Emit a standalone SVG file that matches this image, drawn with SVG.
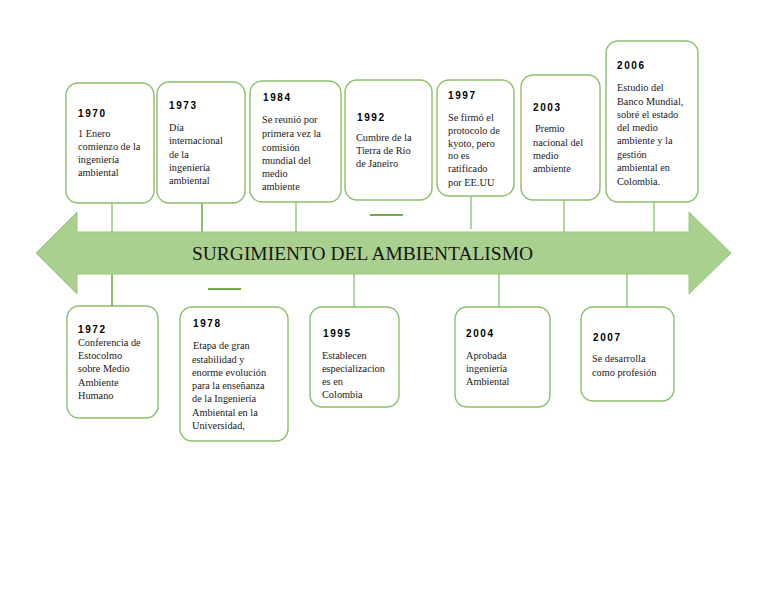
<svg xmlns="http://www.w3.org/2000/svg" width="768" height="594" viewBox="0 0 768 594">
<style>
.box{fill:#ffffff;stroke:#8dc06b;stroke-width:1.4}
.yr{font-family:"Liberation Sans",Arial,sans-serif;font-weight:bold;font-size:10px;letter-spacing:1.6px;fill:#000}
.tx{font-family:"Liberation Serif","Times New Roman",serif;font-size:10.3px;fill:#1a1a1a}
.stem{stroke:#8dc06b;stroke-width:1.3;fill:none}
.stem2{stroke:#70ad47;stroke-width:1.6;fill:none}
.dash{stroke:#70ad47;stroke-width:2;fill:none}
.title{font-family:"Liberation Serif","Times New Roman",serif;font-size:19px;fill:#151515}
</style>
<rect width="768" height="594" fill="#ffffff"/>
<g id="connectors">
<line class="stem" x1="112" y1="203" x2="112" y2="234"/>
<line class="stem2" x1="202" y1="203" x2="202" y2="234"/>
<line class="stem" x1="296" y1="202" x2="296" y2="234"/>
<line class="stem" x1="471" y1="196" x2="471" y2="229"/>
<line class="stem" x1="564" y1="200" x2="564" y2="234"/>
<line class="stem" x1="654" y1="202" x2="654" y2="234"/>
<line class="stem2" x1="112" y1="272" x2="112" y2="306"/>
<line class="stem" x1="354" y1="272" x2="354" y2="307"/>
<line class="stem" x1="499" y1="272" x2="499" y2="307"/>
<line class="stem" x1="627" y1="272" x2="627" y2="307"/>
<line class="dash" x1="370" y1="215" x2="403" y2="215"/>
<line class="dash" x1="208" y1="289" x2="241" y2="289"/>
</g>
<g id="timeline-arrow">
<polygon points="36,253 77,212 77,232 689,232 689,212 731,253 689,294 689,274 77,274 77,294" fill="#a9d08e" stroke="#9cc780" stroke-width="1"/>
<text class="title" x="192" y="260" textLength="341" lengthAdjust="spacingAndGlyphs">SURGIMIENTO DEL AMBIENTALISMO</text>
</g>
<g id="n1970">
<rect class="box" x="66" y="83" width="88" height="120" rx="12"/>
<text class="yr" x="78" y="117">1970</text>
<text class="tx"><tspan x="78" y="137">1 Enero</tspan><tspan x="78" y="150">comienzo de la</tspan><tspan x="78" y="163">ingeniería</tspan><tspan x="78" y="176">ambiental</tspan></text>
</g>
<g id="n1973">
<rect class="box" x="157" y="82" width="88" height="121" rx="12"/>
<text class="yr" x="169" y="109">1973</text>
<text class="tx"><tspan x="169" y="131">Día</tspan><tspan x="169" y="144">internacional</tspan><tspan x="169" y="158">de la</tspan><tspan x="169" y="171">ingeniería</tspan><tspan x="169" y="184">ambiental</tspan></text>
</g>
<g id="n1984">
<rect class="box" x="250" y="81" width="91" height="121" rx="12"/>
<text class="yr" x="263" y="101">1984</text>
<text class="tx"><tspan x="262" y="123">Se reunió por</tspan><tspan x="262" y="137">primera vez la</tspan><tspan x="262" y="151">comisión</tspan><tspan x="262" y="164">mundial del</tspan><tspan x="262" y="177">medio</tspan><tspan x="262" y="190">ambiente</tspan></text>
</g>
<g id="n1992">
<rect class="box" x="345" y="80" width="87" height="120" rx="12"/>
<text class="yr" x="357" y="121">1992</text>
<text class="tx"><tspan x="356" y="141">Cumbre de la</tspan><tspan x="356" y="154">Tierra de Río</tspan><tspan x="356" y="167">de Janeiro</tspan></text>
</g>
<g id="n1997">
<rect class="box" x="437" y="80" width="77" height="116" rx="12"/>
<text class="yr" x="448" y="99">1997</text>
<text class="tx"><tspan x="448" y="121">Se firmó el</tspan><tspan x="448" y="134">protocolo de</tspan><tspan x="448" y="147">kyoto, pero</tspan><tspan x="448" y="159">no es</tspan><tspan x="448" y="172">ratificado</tspan><tspan x="448" y="186">por EE.UU</tspan></text>
</g>
<g id="n2003">
<rect class="box" x="521" y="75" width="79" height="125" rx="12"/>
<text class="yr" x="533" y="111">2003</text>
<text class="tx"><tspan x="535" y="132"> Premio</tspan><tspan x="533" y="146">nacional del</tspan><tspan x="533" y="159">medio</tspan><tspan x="533" y="172">ambiente</tspan></text>
</g>
<g id="n2006">
<rect class="box" x="606" y="41" width="92" height="161" rx="12"/>
<text class="yr" x="617" y="69">2006</text>
<text class="tx"><tspan x="617" y="91">Estudio del</tspan><tspan x="617" y="105">Banco Mundial,</tspan><tspan x="617" y="118">sobré el estado</tspan><tspan x="617" y="131">del medio</tspan><tspan x="617" y="144">ambiente y la</tspan><tspan x="617" y="158">gestión</tspan><tspan x="617" y="171">ambiental en</tspan><tspan x="617" y="185">Colombia.</tspan></text>
</g>
<g id="n1972">
<rect class="box" x="67" y="306" width="91" height="112" rx="12"/>
<text class="yr" x="78" y="333">1972</text>
<text class="tx"><tspan x="78" y="346">Conferencia de</tspan><tspan x="78" y="359">Estocolmo</tspan><tspan x="78" y="372">sobre Medio</tspan><tspan x="78" y="386">Ambiente</tspan><tspan x="78" y="399">Humano</tspan></text>
</g>
<g id="n1978">
<rect class="box" x="180" y="307" width="108" height="134" rx="12"/>
<text class="yr" x="193" y="327">1978</text>
<text class="tx"><tspan x="193" y="349"> Etapa de gran</tspan><tspan x="192" y="363">estabilidad y</tspan><tspan x="192" y="376">enorme evolución</tspan><tspan x="192" y="389">para la enseñanza</tspan><tspan x="192" y="402">de la Ingeniería</tspan><tspan x="192" y="416">Ambiental en la</tspan><tspan x="192" y="429">Universidad,</tspan></text>
</g>
<g id="n1995">
<rect class="box" x="310" y="307" width="89" height="100" rx="12"/>
<text class="yr" x="323" y="337">1995</text>
<text class="tx"><tspan x="322" y="359">Establecen</tspan><tspan x="322" y="372">especializacion</tspan><tspan x="322" y="385">es en</tspan><tspan x="322" y="398">Colombia</tspan></text>
</g>
<g id="n2004">
<rect class="box" x="455" y="307" width="95" height="100" rx="12"/>
<text class="yr" x="466" y="337">2004</text>
<text class="tx"><tspan x="466" y="359">Aprobada</tspan><tspan x="466" y="372">ingeniería</tspan><tspan x="466" y="385">Ambiental</tspan></text>
</g>
<g id="n2007">
<rect class="box" x="581" y="307" width="93" height="94" rx="12"/>
<text class="yr" x="593" y="341">2007</text>
<text class="tx"><tspan x="592" y="362">Se desarrolla</tspan><tspan x="592" y="376">como profesión</tspan></text>
</g>
</svg>
